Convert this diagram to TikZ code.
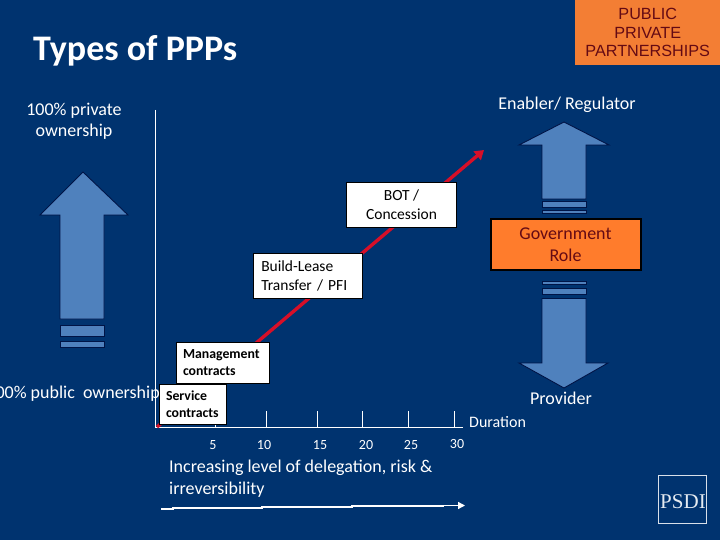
\documentclass[tikz,border=0pt]{standalone}
\usepackage{fontspec}
\setmainfont{Carlito}
\newfontfamily\arialf{Liberation Sans}
\newfontfamily\timesf{Liberation Serif}
\usetikzlibrary{arrows.meta}
\definecolor{bgblue}{RGB}{0,51,111}
\definecolor{arrowblue}{RGB}{79,129,189}
\definecolor{navyline}{RGB}{0,20,70}
\definecolor{roleorange}{RGB}{255,124,44}
\definecolor{tagorange}{RGB}{243,126,52}
\definecolor{darkred}{RGB}{100,10,20}
\definecolor{linered}{RGB}{215,15,40}
\tikzset{
  x=1pt,y=-1pt,
  blockarrow/.style={fill=arrowblue,draw=navyline,line width=0.9pt,line join=miter},
  whitetext/.style={text=white,inner sep=0pt,align=center,font=\fontsize{18}{21}\selectfont},
  labelbox/.style={fill=white,draw=black,line width=0.8pt,inner sep=0pt,font=\fontsize{15.5}{19}\selectfont,text=black},
  ticklabel/.style={text=white,inner sep=0pt,font=\fontsize{14}{15}\selectfont},
  axisline/.style={draw=white,line width=0.8pt}
}
\begin{document}
\begin{tikzpicture}
\useasboundingbox (0,0) rectangle (720,540);
\clip (0,0) rectangle (720,540);
\fill[bgblue] (0,0) rectangle (720,540);
% top right tag
\node[fill=tagorange,minimum width=145pt,minimum height=65pt,inner sep=0pt,anchor=north west,align=center,text=darkred,font=\arialf\fontsize{16.2}{18.5}\selectfont] (tag) at (575,0) {PUBLIC\\PRIVATE\\PARTNERSHIPS};
\node[anchor=base west,inner sep=0pt,text=white,font=\bfseries\fontsize{36}{38}\selectfont] (title) at (33,61) {Types of PPPs};
% text labels
\node[whitetext] (priv) at (74,121) {100\% private\\ownership};
\node[whitetext] (reg) at (567,105) {Enabler/ Regulator};
\node[whitetext,anchor=base east] (pub) at (160,398) {100\% public\hspace{4pt} ownership};
\node[whitetext] (prov) at (561,398) {Provider};
\node[whitetext,anchor=west,font=\fontsize{16}{18}\selectfont] (dur) at (469,422) {Duration};
% axes
\coordinate (orig) at (155,427.5);
\coordinate (ytop) at (155,110);
\coordinate (xend) at (463,427.5);
\draw[axisline] (ytop) -- (orig) -- (xend);
\foreach \x/\n in {215/5,266/10,317/15,362/20,408/25,454/30}{
  \draw[axisline] (\x,427.5) -- (\x,411);
}
\node[ticklabel] (t5) at (213,445) {5};
\node[ticklabel] (t10) at (264,445) {10};
\node[ticklabel] (t15) at (320,445) {15};
\node[ticklabel] (t20) at (366,445) {20};
\node[ticklabel] (t25) at (411,445) {25};
\node[ticklabel] (t30) at (457,444) {30};
% red diagonal
\coordinate (rstart) at (157,427);
\coordinate (rend) at (484,150);
\draw[linered,line width=3.4pt,-{Triangle[length=9pt,width=11pt]}] (rstart) -- (rend);
% blue arrows
\draw[blockarrow] (83,172) -- (128,215) -- (104,215) -- (104,319) -- (60,319) -- (60,215) -- (40,215) -- cycle;
\draw[blockarrow] (60,325.5) rectangle (104,336);
\draw[blockarrow] (60,341.5) rectangle (104,347);
\draw[blockarrow] (564,122) -- (609,145) -- (586,145) -- (586,199) -- (542,199) -- (542,145) -- (519,145) -- cycle;
\draw[blockarrow] (542,201.5) rectangle (586,207);
\draw[blockarrow] (542,210) rectangle (586,213.5);
\draw[blockarrow] (564,388) -- (608,363) -- (586,363) -- (586,298.5) -- (542,298.5) -- (542,363) -- (519,363) -- cycle;
\draw[blockarrow] (542,288.5) rectangle (586,294.5);
\draw[blockarrow] (542,281) rectangle (586,284.5);
% government role
\node[fill=roleorange,draw=black,line width=2pt,minimum width=150pt,minimum height=50pt,inner sep=0pt,align=center,text=darkred,font=\fontsize{18}{21.5}\selectfont] (gov) at (565.5,244.5) {Government\\Role};
% stage boxes
\node[labelbox,minimum width=110pt,minimum height=45pt,align=center] (bot) at (401.5,205) {BOT /\\Concession};
\node[labelbox,minimum width=108.5pt,minimum height=45pt,align=left,text width=93pt] (build) at (307.75,276) {Build-Lease\\Transfer / PFI};
\node[labelbox,minimum width=93pt,minimum height=41pt,align=left,text width=79pt,font=\bfseries\fontsize{13.8}{17}\selectfont] (mgmt) at (222.5,362.5) {Management\\contracts};
\node[labelbox,minimum width=67pt,minimum height=40pt,align=left,text width=54pt,font=\bfseries\fontsize{13.8}{17}\selectfont] (serv) at (193,404) {Service\\contracts};
% bottom text
\node[whitetext,anchor=north west,align=left,font=\fontsize{18}{22}\selectfont] (incr) at (169,460) {Increasing level of delegation, risk \&\\irreversibility};
% stepped arrow
\coordinate (s0) at (161,509);
\coordinate (s1) at (173,509);
\coordinate (s2) at (173,508);
\coordinate (s3) at (262,508);
\coordinate (s4) at (262,507);
\coordinate (s5) at (352,507);
\coordinate (s6) at (352,506);
\coordinate (s7) at (443,506);
\coordinate (s8) at (443,505.5);
\coordinate (s9) at (465,505.5);
\draw[white,line width=1.3pt,-{Triangle[length=7pt,width=7pt]}] (s0) -- (s1) -- (s2) -- (s3) -- (s4) -- (s5) -- (s6) -- (s7) -- (s8) -- (s9);
% logo
\node[draw=white!85!bgblue,line width=1pt,minimum width=48pt,minimum height=48pt,inner sep=0pt,anchor=north west] (logo) at (657.5,474.5) {};
\node[inner sep=0pt,text=white!90!bgblue,font=\timesf\fontsize{21}{21}\selectfont] (logotext) at (683,502) {PSDI};
\end{tikzpicture}
\end{document}
